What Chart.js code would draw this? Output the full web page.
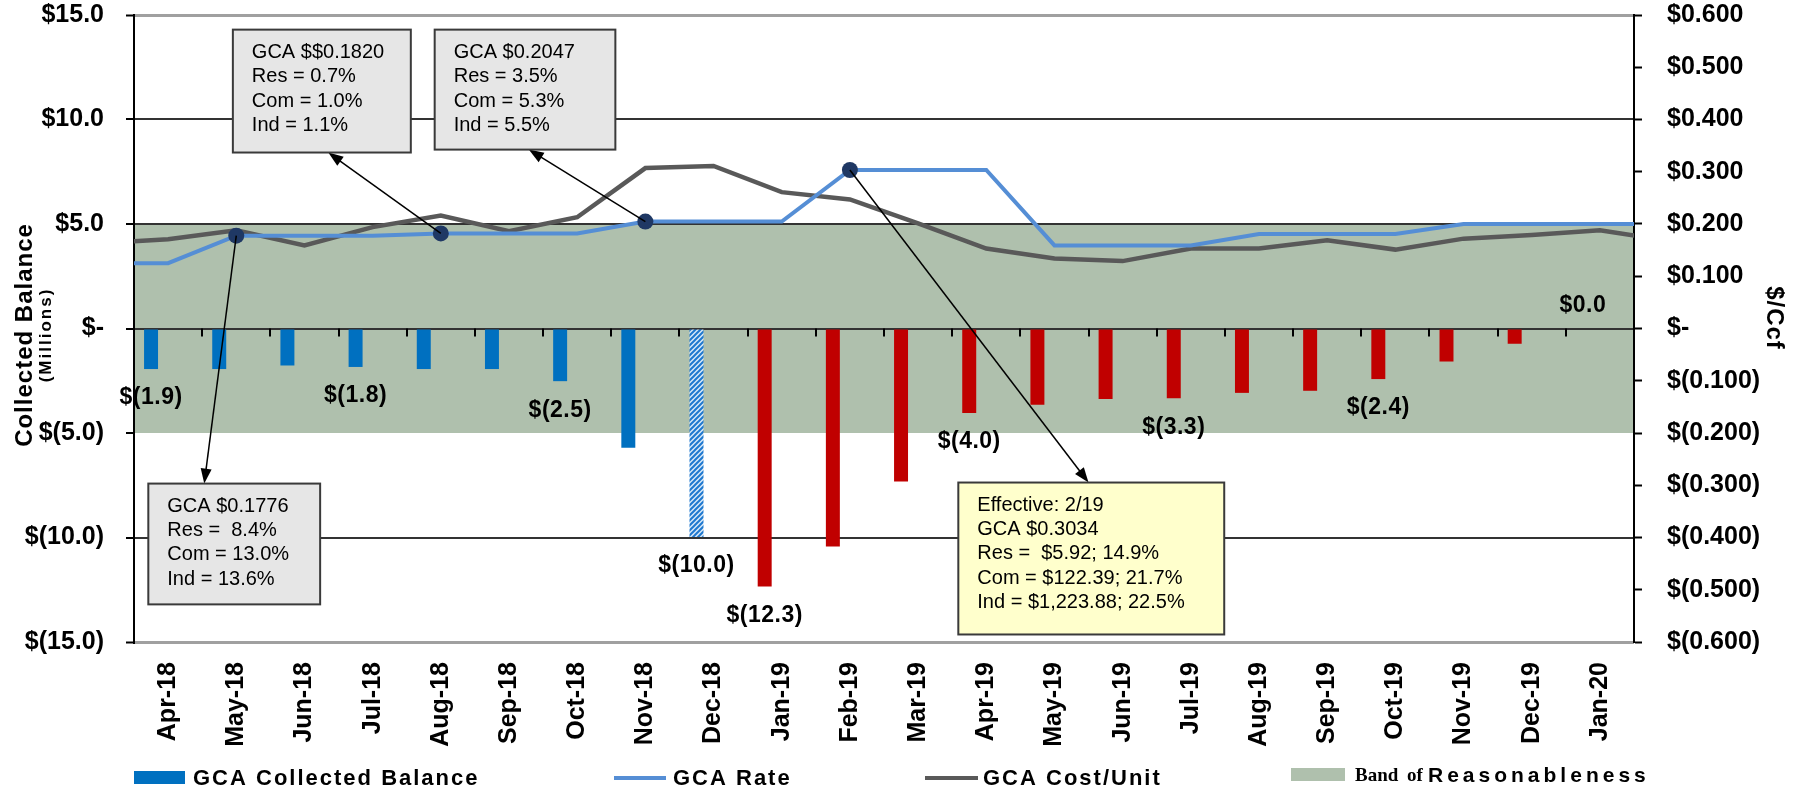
<!DOCTYPE html>
<html>
<head>
<meta charset="utf-8">
<title>GCA Collected Balance</title>
<script src="https://cdn.jsdelivr.net/npm/chart.js@4.4.1/dist/chart.umd.min.js"></script>
<style>
  html, body { margin: 0; padding: 0; background: #fff; }
  #wrap { width: 1797px; height: 791px; }
</style>
</head>
<body>
<div id="wrap"><canvas id="gcaChart" width="1797" height="791"></canvas></div>
<script>
// --- data ---
const months = ['Apr-18', 'May-18', 'Jun-18', 'Jul-18', 'Aug-18', 'Sep-18', 'Oct-18', 'Nov-18',
  'Dec-18', 'Jan-19', 'Feb-19', 'Mar-19', 'Apr-19', 'May-19', 'Jun-19', 'Jul-19', 'Aug-19',
  'Sep-19', 'Oct-19', 'Nov-19', 'Dec-19', 'Jan-20'];

// collected balance, $ millions
const balance = [-1.94, -1.94, -1.77, -1.84, -1.94, -1.94, -2.52, -5.71, -9.98, -12.34, -10.43,
  -7.32, -4.04, -3.65, -3.37, -3.34, -3.08, -2.98, -2.42, -1.58, -0.73, 0];
const labelMonths = ['Apr-18', 'Jul-18', 'Oct-18', 'Dec-18', 'Jan-19', 'Apr-19', 'Jul-19', 'Oct-19', 'Jan-20'];
const projectedMonth = 'Dec-18';
const firstRedMonth = 'Jan-19';

// $/Ccf, Mar-18 .. Feb-20 (one extra month each side, the lines run to the plot edges)
const gcaRate = [0.125, 0.125, 0.1776, 0.1776, 0.1776, 0.182, 0.182, 0.182, 0.2047, 0.2047, 0.2047,
  0.3034, 0.3034, 0.3034, 0.159, 0.159, 0.159, 0.181, 0.181, 0.181, 0.2, 0.2, 0.2, 0.2];
const gcaCost = [0.163, 0.171, 0.188, 0.159, 0.194, 0.216, 0.186, 0.213, 0.307, 0.311, 0.261, 0.247,
  0.201, 0.153, 0.134, 0.129, 0.153, 0.153, 0.169, 0.151, 0.172, 0.179, 0.188, 0.168];
const rateChangeMonths = ['May-18', 'Aug-18', 'Nov-18', 'Feb-19'];

const balanceTicks = [15, 10, 5, 0, -5, -10, -15];
const rateTicks = [0.6, 0.5, 0.4, 0.3, 0.2, 0.1, 0, -0.1, -0.2, -0.3, -0.4, -0.5, -0.6];
const bandLimits = [-5, 5];

const notes = [
  { text: ['GCA $$0.1820', 'Res = 0.7%', 'Com = 1.0%', 'Ind = 1.1%'], from: 'Aug-18',
    box: [0.95, 3.56, 14.3, 8.42], tip: [2.35, 8.42], fill: '#E6E6E6' },
  { text: ['GCA $0.2047', 'Res = 3.5%', 'Com = 5.3%', 'Ind = 5.5%'], from: 'Nov-18',
    box: [3.91, 6.56, 14.3, 8.56], tip: [5.29, 8.56], fill: '#E6E6E6' },
  { text: ['GCA $0.1776', 'Res =  8.4%', 'Com = 13.0%', 'Ind = 13.6%'], from: 'May-18',
    box: [-0.29, 2.23, -7.42, -13.2], tip: [0.53, -7.42], fill: '#E6E6E6' },
  { text: ['Effective: 2/19', 'GCA $0.3034', 'Res =  $5.92; 14.9%', 'Com = $122.39; 21.7%', 'Ind = $1,223.88; 22.5%'],
    from: 'Feb-19', box: [11.59, 15.49, -7.37, -14.64], tip: [13.5, -7.37], fill: '#FFFFCC' }
];

const SANS = '"Liberation Sans", Arial, sans-serif';
const SERIF = '"Liberation Serif", "Times New Roman", serif';
const BLUE = '#0070C0', RED = '#C00000', RATE = '#558ED5', COST = '#595959', BAND = '#AFC0AD', DOT = '#1F3864';

function fmtBalance(v) {
  if (Math.abs(v) < 1e-9) return '$-';
  const s = Math.abs(v).toFixed(1);
  return v < 0 ? '$(' + s + ')' : '$' + s;
}
function fmtRate(v) {
  if (Math.abs(v) < 1e-9) return '$-';
  const s = Math.abs(v).toFixed(3);
  return v < 0 ? '$(' + s + ')' : '$' + s;
}
function fmtBarLabel(v) {
  const s = Math.abs(v).toFixed(1);
  return v < 0 ? '$(' + s + ')' : '$' + s;
}

function hatchPattern() {
  const c = document.createElement('canvas');
  c.width = 5; c.height = 5;
  const g = c.getContext('2d');
  g.fillStyle = '#D7E8F8';
  g.fillRect(0, 0, 5, 5);
  g.strokeStyle = '#1F78CF';
  g.lineWidth = 2;
  g.beginPath();
  g.moveTo(-1, 6); g.lineTo(6, -1);
  g.moveTo(-1, 1); g.lineTo(1, -1);
  g.moveTo(4, 6); g.lineTo(6, 4);
  g.stroke();
  return g.createPattern(c, 'repeat');
}

const hatch = hatchPattern();
const redFrom = months.indexOf(firstRedMonth);
const barColors = months.map((m, i) => m === projectedMonth ? hatch : (i >= redFrom ? RED : BLUE));

const ratePoints = gcaRate.map((v, i) => ({ x: i - 1, y: v }));
const costPoints = gcaCost.map((v, i) => ({ x: i - 1, y: v }));
const markerRadius = gcaRate.map((v, i) => rateChangeMonths.includes(months[i - 1]) ? 8 : 0);

// band of reasonableness, under the grid
const bandPlugin = {
  id: 'band',
  beforeDraw(chart) {
    const { ctx, chartArea, scales } = chart;
    const top = scales.y.getPixelForValue(bandLimits[1]);
    const bottom = scales.y.getPixelForValue(bandLimits[0]);
    ctx.save();
    ctx.fillStyle = BAND;
    ctx.fillRect(chartArea.left, top, chartArea.right - chartArea.left, bottom - top);
    ctx.restore();
  },
  beforeDatasetsDraw(chart) {
    // small ticks on the zero line between categories
    const { ctx, scales } = chart;
    const y0 = scales.y.getPixelForValue(0);
    const step = scales.x.getPixelForTick(1) - scales.x.getPixelForTick(0);
    ctx.save();
    ctx.strokeStyle = '#000';
    ctx.lineWidth = 2;
    ctx.beginPath();
    for (let i = 1; i < months.length; i++) {
      const x = Math.round(scales.x.getPixelForTick(i) - step / 2);
      ctx.moveTo(x, y0);
      ctx.lineTo(x, y0 + 8);
    }
    ctx.stroke();
    ctx.restore();
  }
};

function arrow(ctx, x1, y1, x2, y2) {
  const a = Math.atan2(y2 - y1, x2 - x1);
  const len = 15, w = 5.5;
  ctx.beginPath();
  ctx.moveTo(x1, y1);
  ctx.lineTo(x2 - Math.cos(a) * len * 0.8, y2 - Math.sin(a) * len * 0.8);
  ctx.stroke();
  ctx.beginPath();
  ctx.moveTo(x2, y2);
  ctx.lineTo(x2 - Math.cos(a) * len - Math.sin(a) * w, y2 - Math.sin(a) * len + Math.cos(a) * w);
  ctx.lineTo(x2 - Math.cos(a) * len + Math.sin(a) * w, y2 - Math.sin(a) * len - Math.cos(a) * w);
  ctx.closePath();
  ctx.fill();
}

const labelPlugin = {
  id: 'labels',
  afterDatasetsDraw(chart) {
    const { ctx, scales } = chart;
    const meta = chart.getDatasetMeta(0);
    ctx.save();
    ctx.font = 'bold 23px ' + SANS;
    ctx.letterSpacing = '0.5px';
    ctx.fillStyle = '#000';
    ctx.textAlign = 'center';
    ctx.textBaseline = 'middle';
    labelMonths.forEach(m => {
      const i = months.indexOf(m);
      const bar = meta.data[i];
      const v = balance[i];
      const y = v < 0 ? bar.y + 29 : bar.y - 23;
      ctx.fillText(fmtBarLabel(v), bar.x, y);
    });

    // call-outs
    const xl = scales.xl, y = scales.y, yr = scales.yr;
    notes.forEach(n => {
      const i = months.indexOf(n.from);
      const px = xl.getPixelForValue(i);
      const py = yr.getPixelForValue(gcaRate[i + 1]);
      ctx.strokeStyle = '#000';
      ctx.fillStyle = '#000';
      ctx.lineWidth = 1.5;
      arrow(ctx, px, py, xl.getPixelForValue(n.tip[0]), y.getPixelForValue(n.tip[1]));
      const l = xl.getPixelForValue(n.box[0]), r = xl.getPixelForValue(n.box[1]);
      const t = y.getPixelForValue(n.box[2]), b = y.getPixelForValue(n.box[3]);
      ctx.fillStyle = n.fill;
      ctx.fillRect(l, t, r - l, b - t);
      ctx.lineWidth = 2;
      ctx.strokeStyle = '#3A3A3A';
      ctx.strokeRect(l, t, r - l, b - t);
      ctx.fillStyle = '#000';
      ctx.font = '20px ' + SANS;
      ctx.letterSpacing = '0px';
      ctx.textAlign = 'left';
      ctx.textBaseline = 'middle';
      n.text.forEach((line, k) => ctx.fillText(line, l + 19, t + 23 + k * 24.2));
    });
    ctx.restore();
  }
};

const decorPlugin = {
  id: 'decor',
  afterDraw(chart) {
    const { ctx, chartArea } = chart;
    const L = chartArea.left;
    ctx.save();
    ctx.fillStyle = '#000';
    // axis titles
    ctx.textAlign = 'center';
    ctx.textBaseline = 'alphabetic';
    ctx.save();
    ctx.translate(32, 335);
    ctx.rotate(-Math.PI / 2);
    ctx.font = 'bold 24px ' + SANS;
    ctx.letterSpacing = '1px';
    ctx.fillText('Collected Balance', 0, 0);
    ctx.restore();
    ctx.save();
    ctx.translate(51, 335);
    ctx.rotate(-Math.PI / 2);
    ctx.font = 'bold 17px ' + SANS;
    ctx.letterSpacing = '2px';
    ctx.fillText('(Millions)', 0, 0);
    ctx.restore();
    ctx.save();
    ctx.translate(1767, 318);
    ctx.rotate(Math.PI / 2);
    ctx.font = 'bold 24px ' + SANS;
    ctx.letterSpacing = '1px';
    ctx.fillText('$/Ccf', 0, 0);
    ctx.restore();

    // legend
    const ly = 778;
    ctx.textAlign = 'left';
    ctx.textBaseline = 'middle';
    ctx.font = 'bold 22px ' + SANS;
    ctx.letterSpacing = '2px';
    ctx.fillStyle = BLUE;
    ctx.fillRect(L, ly - 7, 51, 13);
    ctx.fillStyle = '#000';
    ctx.fillText('GCA Collected Balance', L + 59, ly + 1);

    ctx.lineWidth = 4;
    ctx.strokeStyle = RATE;
    ctx.beginPath(); ctx.moveTo(614, ly); ctx.lineTo(666, ly); ctx.stroke();
    ctx.fillText('GCA Rate', 673, ly + 1);

    ctx.strokeStyle = COST;
    ctx.beginPath(); ctx.moveTo(925, ly); ctx.lineTo(978, ly); ctx.stroke();
    ctx.fillText('GCA Cost/Unit', 983, ly + 1);

    ctx.fillStyle = BAND;
    ctx.fillRect(1291, ly - 10, 54, 13);
    ctx.fillStyle = '#000';
    ctx.font = 'bold 19px ' + SERIF;
    ctx.letterSpacing = '0px';
    ctx.fillText('Band', 1355, ly - 2);
    ctx.fillText('of', 1407, ly - 2);
    ctx.font = 'bold 21px ' + SANS;
    ctx.letterSpacing = '4px';
    ctx.fillText('Reasonableness', 1428, ly - 2);
    ctx.restore();
  }
};

function gridStyle(v) {
  if (v === 15 || v === -15) return { color: '#A0A0A0', width: 3 };
  if (v === -5) return { color: 'rgba(0,0,0,0)', width: 0 };
  return { color: '#333333', width: 2 };
}

const tickFont = { family: SANS, size: 25, weight: 'bold' };

new Chart(document.getElementById('gcaChart'), {
  type: 'bar',
  data: {
    labels: months,
    datasets: [
      {
        type: 'bar',
        label: 'GCA Collected Balance',
        data: balance,
        backgroundColor: barColors,
        borderWidth: 0,
        barPercentage: 0.41,
        categoryPercentage: 1.0,
        xAxisID: 'x',
        yAxisID: 'y',
        order: 3
      },
      {
        type: 'line',
        label: 'GCA Cost/Unit',
        data: costPoints,
        borderColor: COST,
        borderWidth: 4.5,
        pointRadius: 0,
        tension: 0,
        clip: 0,
        xAxisID: 'xl',
        yAxisID: 'yr',
        order: 2
      },
      {
        type: 'line',
        label: 'GCA Rate',
        data: ratePoints,
        borderColor: RATE,
        borderWidth: 4,
        pointRadius: markerRadius,
        pointBackgroundColor: DOT,
        pointBorderColor: DOT,
        pointBorderWidth: 0,
        tension: 0,
        clip: 0,
        xAxisID: 'xl',
        yAxisID: 'yr',
        order: 1
      }
    ]
  },
  options: {
    responsive: false,
    animation: false,
    devicePixelRatio: 1,
    layout: { padding: { top: 15, bottom: 44, left: 0, right: 0 } },
    plugins: { legend: { display: false }, tooltip: { enabled: false } },
    scales: {
      x: {
        type: 'category',
        offset: true,
        grid: { display: false, drawTicks: false },
        border: { display: false },
        ticks: {
          color: '#000',
          font: { family: SANS, size: 25, weight: 'bold' },
          minRotation: 90,
          maxRotation: 90,
          autoSkip: false,
          padding: 20
        },
        afterFit(s) { s.height = 105; }
      },
      xl: {
        type: 'linear',
        display: false,
        offset: false,
        grid: { offset: false },
        bounds: 'ticks',
        min: -0.5,
        max: 21.5
      },
      y: {
        position: 'left',
        min: balanceTicks[balanceTicks.length - 1],
        max: balanceTicks[0],
        afterBuildTicks(s) { s.ticks = balanceTicks.map(v => ({ value: v })); },
        grid: {
          color: c => gridStyle(c.tick.value).color,
          lineWidth: c => gridStyle(c.tick.value).width,
          drawTicks: true,
          tickLength: 8,
          tickColor: '#000',
          tickWidth: 2
        },
        border: { display: true, color: '#000', width: 2 },
        ticks: {
          color: '#000',
          font: tickFont,
          padding: 22,
          callback: v => fmtBalance(v)
        },
        afterFit(s) { s.width = 134; s.paddingTop = 0; s.paddingBottom = 0; }
      },
      yr: {
        position: 'right',
        min: rateTicks[rateTicks.length - 1],
        max: rateTicks[0],
        afterBuildTicks(s) { s.ticks = rateTicks.map(v => ({ value: v })); },
        grid: {
          drawOnChartArea: false,
          drawTicks: true,
          tickLength: 8,
          tickColor: '#000',
          tickWidth: 2
        },
        border: { display: true, color: '#000', width: 2 },
        ticks: {
          color: '#000',
          font: tickFont,
          padding: 25,
          callback: v => fmtRate(v)
        },
        afterFit(s) { s.width = 163; s.paddingTop = 0; s.paddingBottom = 0; }
      }
    }
  },
  plugins: [bandPlugin, labelPlugin, decorPlugin]
});
</script>
</body>
</html>
